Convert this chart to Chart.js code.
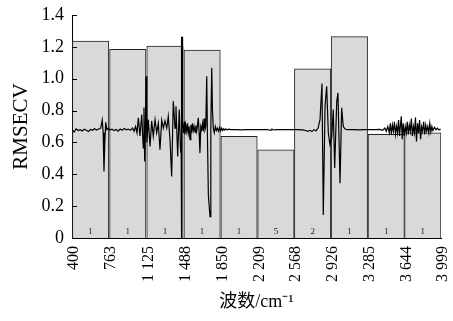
<!DOCTYPE html>
<html>
<head>
<meta charset="utf-8">
<script src="https://cdn.jsdelivr.net/npm/chart.js@4/dist/chart.umd.min.js"></script>
<style>
  html, body { margin: 0; padding: 0; background: #fff; }
  #wrap { position: relative; width: 453px; height: 321px; }
</style>
</head>
<body>
<div id="wrap"><canvas id="c"></canvas></div>
<script>
// Interval boundaries (wavenumber, cm^-1) and their tick labels
const edges = [400, 763, 1125, 1488, 1850, 2209, 2568, 2926, 3285, 3644, 3999];
const tickLabels = ['400', '763', '1 125', '1 488', '1 850', '2 209', '2 568', '2 926', '3 285', '3 644', '3 999'];
// RMSECV of each interval
const rmsecv = [1.236, 1.184, 1.205, 1.180, 0.638, 0.554, 1.062, 1.264, 0.651, 0.661];
// Number of factors written at the bottom of each bar
const factors = [1, 1, 1, 1, 1, 5, 2, 1, 1, 1];

// Overlaid spectrum
const specWn = [
  400, 420, 440, 460, 480, 500, 520, 540, 560, 580, 600, 620, 640, 660, 680,
  695, 704, 712, 720, 729, 740, 754,
  770, 790, 810, 830, 850, 870, 890, 910, 930, 950, 970, 990, 1005,
  1020, 1034, 1047, 1063, 1080, 1095, 1102, 1109, 1116, 1122, 1130, 1144, 1161, 1177, 1193, 1210,
  1226, 1242, 1258, 1275, 1291, 1307, 1324, 1339, 1356, 1372, 1388, 1405, 1414, 1431, 1446, 1460,
  1465, 1467, 1470, 1473, 1477,
  1480, 1488, 1495, 1502, 1510, 1519, 1527, 1534, 1542, 1551, 1559, 1567, 1575, 1583, 1591, 1600,
  1608, 1616, 1624, 1632, 1640, 1648, 1656, 1665, 1673, 1681, 1689, 1697, 1705,
  1714, 1722, 1730, 1738, 1746, 1754, 1763, 1770, 1778, 1788, 1798, 1808, 1818, 1828, 1840, 1850,
  1860, 1870, 1880, 1890, 1900, 1915, 1930, 1950,
  2000, 2050, 2100, 2150, 2200, 2250, 2300, 2340, 2350, 2360, 2400, 2450, 2500, 2550, 2600, 2650,
  2680, 2700, 2720, 2740, 2760, 2780, 2800,
  2819, 2838, 2851, 2868, 2884, 2900, 2916, 2933, 2948, 2962, 2982, 2994, 3014, 3030, 3046, 3062, 3079,
  3100, 3150, 3200, 3250, 3300, 3350, 3400, 3430, 3450,
  3465, 3480, 3495, 3505, 3515, 3525, 3535, 3545, 3555, 3565, 3575, 3585, 3595, 3605, 3612, 3620,
  3630, 3640, 3650, 3660, 3670, 3680, 3690, 3700, 3710, 3720, 3730, 3740, 3750, 3760, 3770, 3780,
  3790, 3800, 3810, 3820, 3830, 3840, 3850, 3860, 3870, 3880, 3890, 3900, 3910, 3920, 3935, 3950,
  3965, 3980, 3995
];
const specVal = [
  0.680, 0.665, 0.685, 0.675, 0.680, 0.672, 0.683, 0.676, 0.668, 0.681, 0.676, 0.686, 0.678, 0.684, 0.690,
  0.740, 0.660, 0.418, 0.600, 0.726, 0.680, 0.690,
  0.678, 0.683, 0.674, 0.681, 0.670, 0.684, 0.677, 0.688, 0.679, 0.684, 0.676, 0.690, 0.670,
  0.700, 0.660, 0.754, 0.640, 0.775, 0.565, 0.820, 0.480, 0.700, 1.016, 0.600, 0.743, 0.575, 0.735, 0.640, 0.743,
  0.660, 0.720, 0.554, 0.740, 0.690, 0.735, 0.690, 0.764, 0.617, 0.386, 0.858, 0.690, 0.827, 0.512, 0.806, 0.535,
  0.600, 1.264, 0.000, 1.264, 0.700,
  0.720, 0.660, 0.730, 0.650, 0.710, 0.670, 0.720, 0.660, 0.700, 0.617, 0.710, 0.660, 0.720, 0.675, 0.700, 0.665,
  0.705, 0.670, 0.710, 0.754, 0.660, 0.533, 0.700, 0.680, 0.720, 0.670, 0.750, 0.680, 0.700,
  1.016, 0.600, 0.270, 0.200, 0.134, 0.700, 1.069, 0.800, 0.690, 0.660, 0.700, 0.675, 0.690, 0.670, 0.695, 0.672,
  0.690, 0.675, 0.686, 0.677, 0.684, 0.679, 0.683, 0.680,
  0.681, 0.679, 0.680, 0.680, 0.680, 0.680, 0.681, 0.676, 0.684, 0.678, 0.680, 0.680, 0.680, 0.680, 0.680, 0.679,
  0.675, 0.670, 0.676, 0.668, 0.680, 0.672, 0.690,
  0.743, 0.970, 0.145, 0.827, 0.953, 0.660, 0.586, 0.630, 0.806, 0.439, 0.858, 0.911, 0.344, 0.817, 0.700, 0.685, 0.680,
  0.680, 0.681, 0.679, 0.680, 0.680, 0.680, 0.682, 0.676, 0.690,
  0.670, 0.700, 0.660, 0.720, 0.650, 0.710, 0.670, 0.730, 0.650, 0.700, 0.660, 0.740, 0.640, 0.720, 0.764, 0.620,
  0.720, 0.640, 0.700, 0.660, 0.730, 0.650, 0.710, 0.670, 0.750, 0.640, 0.700, 0.660, 0.757, 0.606, 0.720, 0.660,
  0.740, 0.620, 0.700, 0.670, 0.730, 0.650, 0.710, 0.670, 0.700, 0.660, 0.720, 0.665, 0.700, 0.675, 0.695, 0.680,
  0.690, 0.678, 0.685
];

const barData = rmsecv.map((v, i) => ({ x: (edges[i] + edges[i + 1]) / 2, y: v }));
const lineData = specWn.map((w, i) => ({ x: w, y: specVal[i] }));

const SERIF = "'Liberation Serif', 'Times New Roman', serif";

const decor = {
  id: 'decor',
  afterDatasetsDraw(chart) {
    const ctx = chart.ctx;
    const ys = chart.scales.y;
    const area = chart.chartArea;
    // inward tick marks on y axis
    ctx.save();
    ctx.strokeStyle = '#000';
    ctx.lineWidth = 1;
    ys.ticks.forEach(t => {
      const py = Math.round(ys.getPixelForValue(t.value)) + 0.5;
      ctx.beginPath();
      ctx.moveTo(area.left, py);
      ctx.lineTo(area.left + 5, py);
      ctx.stroke();
    });
    // factor labels at the bottom of the bars
    const meta = chart.getDatasetMeta(1);
    ctx.fillStyle = '#222';
    ctx.font = '9px ' + SERIF;
    ctx.textAlign = 'center';
    ctx.textBaseline = 'middle';
    const y0 = ys.getPixelForValue(0);
    meta.data.forEach((el, i) => {
      ctx.fillText(String(factors[i]), el.x, y0 - 6);
    });
    ctx.restore();
  }
};

new Chart(document.getElementById('c'), {
  type: 'bar',
  data: {
    datasets: [
      {
        type: 'line',
        data: lineData,
        borderColor: '#000',
        borderWidth: 1.2,
        pointRadius: 0,
        tension: 0,
        fill: false,
        order: 0
      },
      {
        type: 'bar',
        data: barData,
        backgroundColor: '#d9d9d9',
        borderColor: '#222',
        borderWidth: 1,
        barPercentage: 1,
        categoryPercentage: 1,
        order: 1
      }
    ]
  },
  options: {
    responsive: true,
    maintainAspectRatio: false,
    animation: false,
    devicePixelRatio: 1,
    layout: { padding: { top: 15, right: 12, left: 0, bottom: 0 } },
    plugins: { legend: { display: false }, tooltip: { enabled: false } },
    scales: {
      x: {
        type: 'linear',
        min: 400,
        max: 3999,
        offset: false,
        afterBuildTicks: s => { s.ticks = edges.map(v => ({ value: v })); },
        afterFit: s => { s.height = 83; s.paddingLeft = 0; s.paddingRight = 0; },
        grid: { display: false, drawTicks: false },
        border: { display: true, color: '#000', width: 1 },
        ticks: {
          autoSkip: false,
          maxRotation: 90,
          minRotation: 90,
          padding: 8,
          labelOffset: 2,
          color: '#000',
          font: { family: SERIF, size: 16 },
          callback: (v, i) => tickLabels[i]
        },
        title: {
          display: true,
          text: '波数/cm⁻¹',
          color: '#000',
          font: { family: "'Liberation Serif', 'Noto Sans CJK SC', serif", size: 18 },
          padding: { top: 0, bottom: 8 }
        }
      },
      y: {
        min: 0,
        max: 1.4,
        afterFit: s => { s.width = 72; s.paddingTop = 0; s.paddingBottom = 0; },
        grid: { display: false, drawTicks: false },
        border: { display: true, color: '#000', width: 1 },
        ticks: {
          stepSize: 0.2,
          padding: 8,
          color: '#000',
          font: { family: SERIF, size: 18 },
          callback: v => (Math.abs(v) < 1e-9 ? '0' : Number(v).toFixed(1))
        },
        title: {
          display: true,
          text: 'RMSECV',
          color: '#000',
          font: { family: SERIF, size: 21 },
          padding: { top: 9, bottom: 0 }
        }
      }
    }
  },
  plugins: [decor]
});
</script>
</body>
</html>
